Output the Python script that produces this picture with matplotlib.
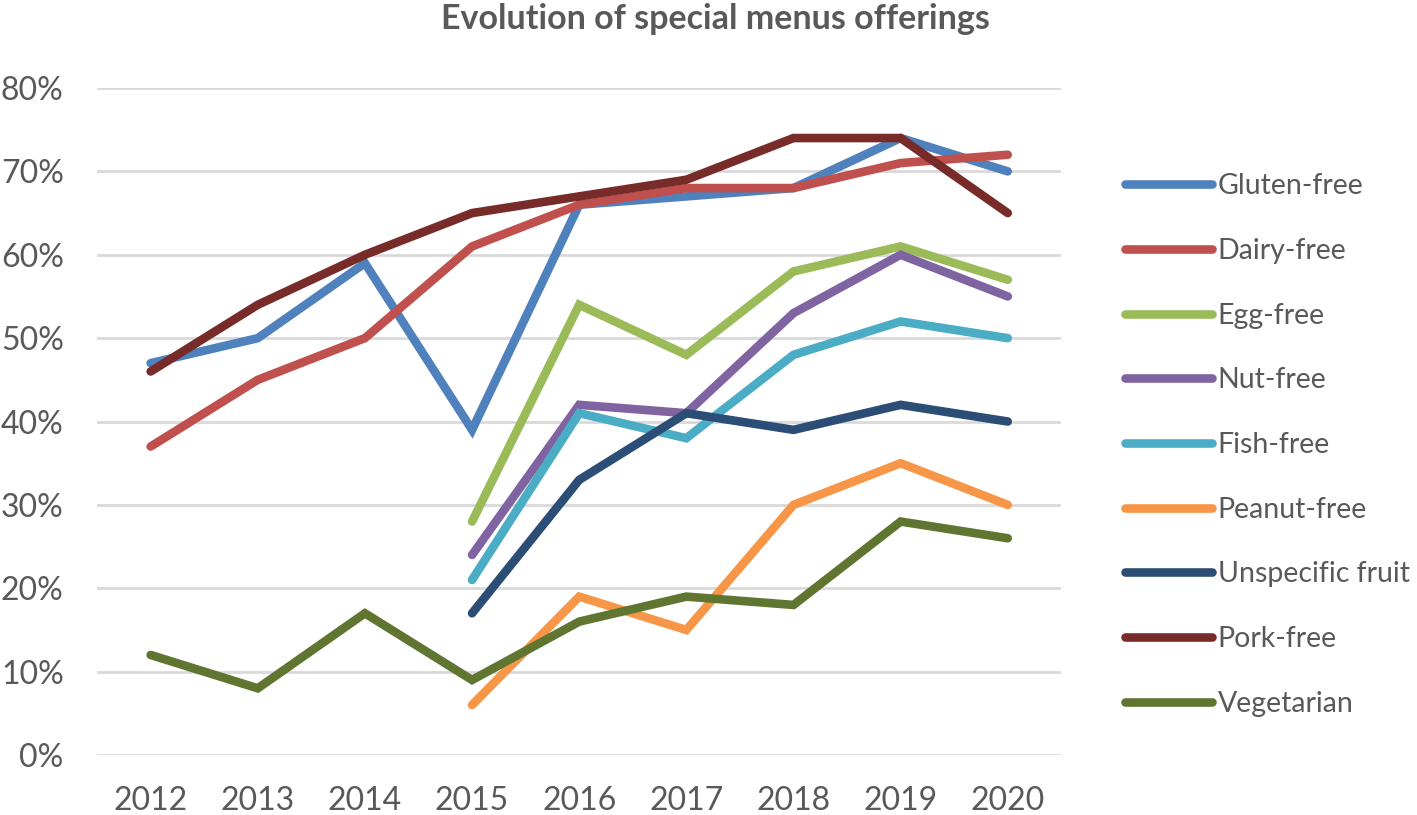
import numpy as np
import matplotlib
matplotlib.use("Agg")
import matplotlib.pyplot as plt

plt.rcParams['font.family'] = ['Lato', 'DejaVu Sans']

years = ['2012', '2013', '2014', '2015', '2016', '2017', '2018', '2019', '2020']
nan = np.nan

gluten_free = [47, 50, 59, 39, 66, 67, 68, 74, 70]
dairy_free = [37, 45, 50, 61, 66, 68, 68, 71, 72]
egg_free = [nan, nan, nan, 28, 54, 48, 58, 61, 57]
nut_free = [nan, nan, nan, 24, 42, 41, 53, 60, 55]
fish_free = [nan, nan, nan, 21, 41, 38, 48, 52, 50]
peanut_free = [nan, nan, nan, 6, 19, 15, 30, 35, 30]
unspecific_fruit = [nan, nan, nan, 17, 33, 41, 39, 42, 40]
pork_free = [46, 54, 60, 65, 67, 69, 74, 74, 65]
vegetarian = [12, 8, 17, 9, 16, 19, 18, 28, 26]

series = [
    ('Gluten-free', gluten_free, '#4F81BD'),
    ('Dairy-free', dairy_free, '#C0504D'),
    ('Egg-free', egg_free, '#9BBB59'),
    ('Nut-free', nut_free, '#8064A2'),
    ('Fish-free', fish_free, '#4BACC6'),
    ('Peanut-free', peanut_free, '#F79646'),
    ('Unspecific fruit', unspecific_fruit, '#2C4D75'),
    ('Pork-free', pork_free, '#772C2A'),
    ('Vegetarian', vegetarian, '#5F7530'),
]

text_color = '#595959'

fig = plt.figure(figsize=(14.17, 8.15), dpi=100)
ax = fig.add_axes([0.0685, 0.0736, 0.6805, 0.8184])

x = np.arange(len(years))
for name, vals, color in series:
    ax.plot(x, vals, color=color, lw=6.2, label=name,
            solid_capstyle='round', solid_joinstyle='miter')

ax.set_xlim(-0.5, len(years) - 0.5)
ax.set_ylim(0, 80)
ax.set_yticks(range(0, 81, 10))
ax.set_yticklabels([f'{v}%' for v in range(0, 81, 10)])
ax.set_xticks(x)
ax.set_xticklabels(years)

ax.grid(axis='y', color='#D9D9D9', lw=2)
ax.set_axisbelow(True)
for s in ax.spines.values():
    s.set_visible(False)
ax.tick_params(axis='both', length=0, labelsize=23, colors=text_color)
ax.tick_params(axis='y', pad=24)
ax.tick_params(axis='x', pad=22)

fig.text(0.505, 0.977, 'Evolution of special menus offerings', ha='center',
         va='center', fontsize=24.5, fontweight='bold', color=text_color)

leg = fig.legend(loc='center left', bbox_to_anchor=(0.776, 0.454),
                 frameon=False, fontsize=20.5, handlelength=3.05,
                 handletextpad=0.2, labelspacing=1.36)
for t in leg.get_texts():
    t.set_color(text_color)

fig.savefig('out.png', dpi=100)
